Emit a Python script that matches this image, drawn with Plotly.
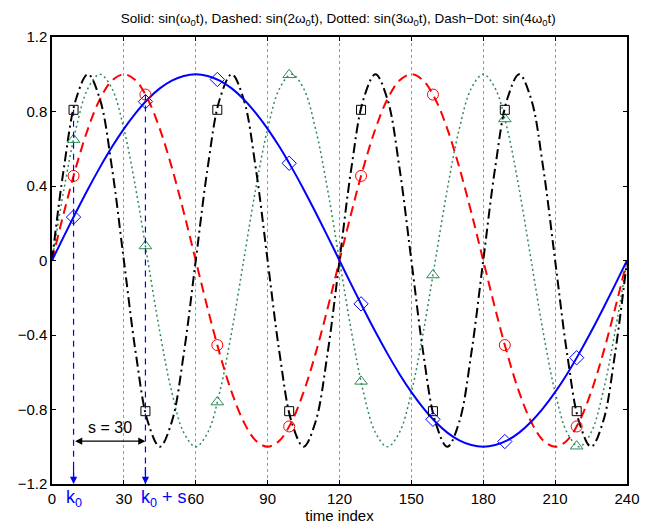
import plotly.graph_objects as go

# ---------------- data ----------------
t = list(range(0, 241, 5))

y_sin1 = [0, .131, .259, .383, .5, .609, .707, .793, .866, .924, .966, .991, 1,
          .991, .966, .924, .866, .793, .707, .609, .5, .383, .259, .131, 0,
          -.131, -.259, -.383, -.5, -.609, -.707, -.793, -.866, -.924, -.966, -.991, -1,
          -.991, -.966, -.924, -.866, -.793, -.707, -.609, -.5, -.383, -.259, -.131, 0]

y_sin2 = [0, .259, .5, .707, .866, .966, 1, .966, .866, .707, .5, .259,
          0, -.259, -.5, -.707, -.866, -.966, -1, -.966, -.866, -.707, -.5, -.259,
          0, .259, .5, .707, .866, .966, 1, .966, .866, .707, .5, .259,
          0, -.259, -.5, -.707, -.866, -.966, -1, -.966, -.866, -.707, -.5, -.259, 0]

y_sin3 = [0, .383, .707, .924, 1, .924, .707, .383, 0, -.383, -.707, -.924, -1, -.924, -.707, -.383,
          0, .383, .707, .924, 1, .924, .707, .383, 0, -.383, -.707, -.924, -1, -.924, -.707, -.383,
          0, .383, .707, .924, 1, .924, .707, .383, 0, -.383, -.707, -.924, -1, -.924, -.707, -.383, 0]

y_sin4 = [0, .5, .866, 1, .866, .5, 0, -.5, -.866, -1, -.866, -.5,
          0, .5, .866, 1, .866, .5, 0, -.5, -.866, -1, -.866, -.5,
          0, .5, .866, 1, .866, .5, 0, -.5, -.866, -1, -.866, -.5,
          0, .5, .866, 1, .866, .5, 0, -.5, -.866, -1, -.866, -.5, 0]

t_mark = [9, 39, 69, 99, 129, 159, 189, 219]
m_sin1 = [.233, .853, .972, .522, -.233, -.853, -.972, -.522]
m_sin2 = [.454, .891, -.454, -.891, .454, .891, -.454, -.891]
m_sin3 = [.649, .078, -.760, .997, -.649, -.078, .760, -.997]
m_sin4 = [.809, -.809, .809, -.809, .809, -.809, .809, -.809]

k0 = 9
s = 30

x_ticks = [0, 30, 60, 90, 120, 150, 180, 210, 240]
y_ticks = [-1.2, -0.8, -0.4, 0, 0.4, 0.8, 1.2]
y_tick_text = ["\u22121.2", "\u22120.8", "\u22120.4", "0", "0.4", "0.8", "1.2"]

BLUE = "#0000ff"
RED = "#ff0000"
GREEN = "#2e8b57"
BLACK = "#000000"

fig = go.Figure()

curves = [
    (y_sin3, GREEN, "2px,3px", 1.5),
    (y_sin2, RED, "10px,6px", 2),
    (y_sin4, BLACK, "10px,4px,2px,4px", 2),
    (y_sin1, BLUE, "solid", 2),
]
for ys, col, dash, w in curves:
    fig.add_trace(go.Scatter(x=t, y=ys, mode="lines",
                             line=dict(color=col, dash=dash, width=w, shape="spline", smoothing=1),
                             showlegend=False, hoverinfo="skip"))

markers = [
    (m_sin1, BLUE, "diamond-open", 11),
    (m_sin2, RED, "circle-open", 11),
    (m_sin3, GREEN, "triangle-up-open", 11),
    (m_sin4, BLACK, "square-open", 9),
]
for ms, col, sym, sz in markers:
    fig.add_trace(go.Scatter(x=t_mark, y=ms, mode="markers",
                             marker=dict(symbol=sym, color=col, size=sz, line=dict(color=col, width=1)),
                             showlegend=False, hoverinfo="skip"))

# vertical dashed guides at k0 and k0+s
for kk in (k0, k0 + s):
    i = t_mark.index(kk)
    top = max(m_sin1[i], m_sin2[i], m_sin3[i], m_sin4[i])
    fig.add_trace(go.Scatter(x=[kk, kk], y=[top, y_ticks[0]], mode="lines",
                             line=dict(color=BLUE, dash="6px,5px", width=1.2),
                             showlegend=False, hoverinfo="skip"))
    fig.add_annotation(x=kk, y=y_ticks[0], ax=kk, ay=-1.1, xref="x", yref="y",
                       axref="x", ayref="y", showarrow=True, arrowhead=2,
                       arrowsize=1.2, arrowwidth=1.2, arrowcolor=BLUE, text="")

# double arrow s = 30
fig.add_annotation(x=k0 + s, y=-0.97, ax=k0, ay=-0.97, xref="x", yref="y",
                   axref="x", ayref="y", showarrow=True, arrowhead=2, arrowside="end+start",
                   arrowsize=1.2, arrowwidth=1.2, arrowcolor=BLACK, text="")
fig.add_annotation(x=k0 + s / 2, y=-0.97, yshift=14, xref="x", yref="y", showarrow=False,
                   text=f"s = {s}", font=dict(size=16, color=BLACK))

# k0 labels
fig.add_annotation(x=k0, y=0, yref="paper", xref="x", yshift=-1, yanchor="top", showarrow=False,
                   text="k<sub>0</sub>", font=dict(size=18, color=BLUE))
fig.add_annotation(x=k0 + s, y=0, yref="paper", xref="x", yshift=-1, yanchor="top", xanchor="left",
                   xshift=-6, showarrow=False,
                   text="k<sub>0</sub> + s", font=dict(size=18, color=BLUE))

fig.update_layout(
    width=654, height=522,
    margin=dict(l=44, r=35, t=29, b=46),
    paper_bgcolor="white", plot_bgcolor="white",
    font=dict(family="Liberation Sans, Arial, sans-serif", size=14, color=BLACK),
    title=dict(text="Solid: sin(\u03c9<sub>0</sub>t), Dashed: sin(2\u03c9<sub>0</sub>t), "
                    "Dotted: sin(3\u03c9<sub>0</sub>t), Dash\u2212Dot: sin(4\u03c9<sub>0</sub>t)",
               x=0.505, xanchor="center", y=0.99, yanchor="top", font=dict(size=13.5)),
    xaxis=dict(range=[0, 240], tickvals=x_ticks, ticks="inside", ticklen=4, tickcolor=BLACK,
               showline=True, linecolor=BLACK, linewidth=1.5, mirror="ticks",
               showgrid=True, gridcolor="#999999", griddash="dot", gridwidth=1,
               zeroline=False, automargin=False,
               title=dict(text="time index", standoff=0, font=dict(size=15)),
               tickfont=dict(size=15)),
    yaxis=dict(range=[-1.2, 1.2], tickvals=y_ticks, ticktext=y_tick_text, ticks="inside",
               ticklen=4, tickcolor=BLACK, showline=True, linecolor=BLACK, linewidth=1.5,
               mirror="ticks", showgrid=False, zeroline=False, automargin=False,
               tickfont=dict(size=15)),
)

fig.write_html("out.html")
